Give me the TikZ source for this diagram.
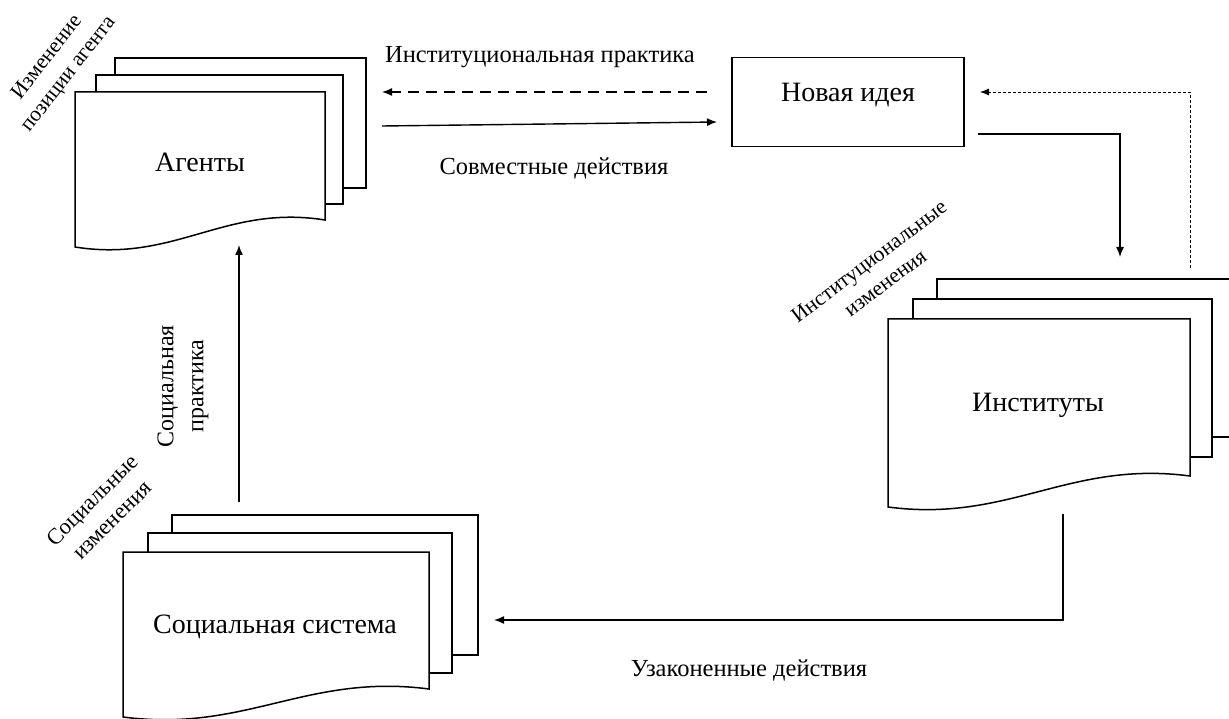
\documentclass[tikz,border=0pt]{standalone}
\usepackage{fontspec}
\setmainfont{Liberation Serif}
\usetikzlibrary{arrows.meta}

%% front page of a stack: left, top, right, bottom left, bottom right
\newcommand{\docPage}[5]{%
  \draw[pageDecorate] (#1,#2) -- (#3,#2) -- (#3,#5)
    .. controls ({#3-0.4*(#3-#1)},{#5-16}) and ({#1+0.4*(#3-#1)},{#4+16}) .. (#1,#4) -- cycle;}

\begin{document}
\begin{tikzpicture}
[x=1pt,y=-1pt,
  pageDecorate/.style={draw,fill=white,line width=1.5pt},%
  boxDecorate/.style={draw,line width=1.5pt},%
  nameDecorate/.style={font=\fontsize{28}{30}\selectfont,inner sep=0pt},%
  labelDecorate/.style={font=\fontsize{24.5}{28}\selectfont,inner sep=0pt},%
  sideDecorate/.style={font=\fontsize{21.5}{27}\selectfont,align=center,inner sep=0pt},%
  lineDecorate/.style={-{Latex[length=10pt,width=8pt]},line width=1.4pt},%
  dashDecorate/.style={-{Latex[length=10pt,width=8pt]},line width=1.3pt,dash pattern=on 11pt off 7pt},%
  dotDecorate/.style={-{Latex[length=9pt,width=7pt]},line width=0.8pt,dash pattern=on 3pt off 2pt}]
\useasboundingbox (0,0) rectangle (1229,719);
\clip (0,0) rectangle (1229,719);
%% agents stack
\draw[pageDecorate] (115,58) rectangle (366,188);
\draw[pageDecorate] (96,75) rectangle (343,204);
\docPage{75}{92}{325}{247}{220}
%% social system stack
\draw[pageDecorate] (172,515) rectangle (478,655);
\draw[pageDecorate] (148,533) rectangle (452,673);
\docPage{123}{552}{429}{717}{689}
%% institutes stack
\draw[pageDecorate] (937,279) rectangle (1240,437);
\draw[pageDecorate] (913,299) rectangle (1212,457);
\docPage{888}{319}{1190}{507}{476}
%% nodes
\node (agents) at (200,162) [nameDecorate] {Агенты};
\node (social) at (275,627) [nameDecorate] {Социальная система};
\node (institutes) at (1038,405) [nameDecorate] {Институты};
\node (idea) at (848,102) [boxDecorate,minimum width=232pt,minimum height=89pt,inner sep=0pt] {};
\node () at (848,95) [nameDecorate] {Новая идея};
%% labels
\node (practiceInst) at (540,57) [labelDecorate] {Институциональная практика};
\node (jointActs) at (554,168) [labelDecorate] {Совместные действия};
\node (legalActs) at (749,670) [labelDecorate] {Узаконенные действия};
\node (practiceSoc) at (183,386) [sideDecorate,rotate=90,font=\fontsize{24}{30}\selectfont] {Социальная\\практика};
\node (agentChange) at (58,66) [sideDecorate,rotate=52] {Изменение\\позиции агента};
\node (instChange) at (877,272) [sideDecorate,rotate=37] {Институциональные\\изменения};
\node (socChange) at (102,510) [sideDecorate,rotate=45,font=\fontsize{22.5}{28}\selectfont] {Социальные\\изменения};
%% connector ends
\coordinate (ideaBackIn) at (707,92);
\coordinate (agentsBackIn) at (382,92);
\coordinate (agentsOut) at (382,126);
\coordinate (ideaIn) at (717,122);
\coordinate (ideaOut) at (978,134);
\coordinate (instIn) at (1120,257);
\coordinate (instOut) at (1063,514);
\coordinate (socialIn) at (494,620);
\coordinate (socialOut) at (239,502);
\coordinate (agentsIn) at (239,245);
\coordinate (instBackOut) at (1190,268);
\coordinate (ideaSideIn) at (980,92);
%% edges or lines
\path
(ideaBackIn) edge[dashDecorate] (agentsBackIn)
(agentsOut) edge[lineDecorate] (ideaIn)
(socialOut) edge[lineDecorate] (agentsIn);
\draw[lineDecorate] (ideaOut) -| (instIn);
\draw[lineDecorate] (instOut) |- (socialIn);
\draw[dotDecorate] (instBackOut) |- (ideaSideIn);
\end{tikzpicture}
\end{document}
